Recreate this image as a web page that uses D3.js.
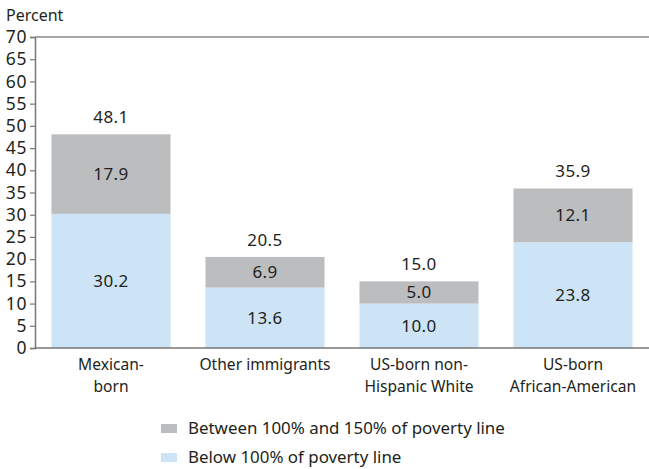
<!DOCTYPE html>
<html><head><meta charset="utf-8">
<script src="https://cdn.jsdelivr.net/npm/d3@7"></script>
<style>body{margin:0;background:#fff}text{font-family:"Noto Sans",sans-serif;fill:#231f20}</style>
</head><body><svg id="c" width="649" height="469"></svg>
<script>
const categories = [["Mexican-","born"],["Other immigrants"],["US-born non-","Hispanic White"],["US-born","African-American"]];
const below100 = [30.2, 13.6, 10.0, 23.8];
const between100_150 = [17.9, 6.9, 5.0, 12.1];
const totals = [48.1, 20.5, 15.0, 35.9];
const yTicks = [0,5,10,15,20,25,30,35,40,45,50,55,60,65,70];
const legendLabels = ["Between 100% and 150% of poverty line","Below 100% of poverty line"];
const colors = {below:"#cce4f6", between:"#bcbdbf"};

const svg = d3.select("#c");
const L=35, R=649, T=37, B=348;
const x = d3.scaleBand().domain(d3.range(categories.length)).range([L,R]).paddingInner(0.227).paddingOuter(0.107);
const y = d3.scaleLinear().domain([0,70]).range([B,T]);

const g = svg.append("g");
categories.forEach((c,i)=>{
  g.append("rect").attr("x",x(i)).attr("width",x.bandwidth()).attr("y",y(below100[i])).attr("height",y(0)-y(below100[i])).attr("fill",colors.below);
  g.append("rect").attr("x",x(i)).attr("width",x.bandwidth()).attr("y",y(below100[i]+between100_150[i])).attr("height",y(0)-y(between100_150[i])).attr("fill",colors.between);
  const cx = x(i)+x.bandwidth()/2;
  const vt = (yy,t)=>g.append("text").attr("x",cx).attr("y",yy).attr("dy","0.35em").attr("text-anchor","middle").attr("font-size",17).attr("letter-spacing",0.4).text(t);
  vt(y(below100[i]/2), below100[i].toFixed(1));
  vt(y(below100[i]+between100_150[i]/2), between100_150[i].toFixed(1));
  vt(y(totals[i])-17, totals[i].toFixed(1));
  c.forEach((line,j)=>{
    g.append("text").attr("x",cx).attr("y",365+j*22).attr("dy","0.35em").attr("text-anchor","middle").attr("font-size",15.6).text(line);
  });
});

const ya = svg.append("g").attr("transform",`translate(${L},0)`).call(d3.axisLeft(y).tickValues(yTicks).tickSize(5).tickPadding(3));
ya.select(".domain").attr("stroke","#777").attr("stroke-width",1.5);
ya.selectAll(".tick line").attr("stroke","#777").attr("stroke-width",1.2);
ya.selectAll(".tick text").attr("font-size",17.5).attr("font-family","Noto Sans").attr("letter-spacing",0.6).attr("fill","#231f20");
svg.append("line").attr("x1",L).attr("x2",R).attr("y1",y(0)).attr("y2",y(0)).attr("stroke","#777").attr("stroke-width",1.5);
svg.append("line").attr("x1",L).attr("x2",R).attr("y1",y(70)).attr("y2",y(70)).attr("stroke","#888").attr("stroke-width",1.5);
svg.append("text").attr("x",6).attr("y",15).attr("dy","0.35em").attr("font-size",16).text("Percent");

const lg = svg.append("g");
[colors.between, colors.below].forEach((col,i)=>{
  lg.append("rect").attr("x",161).attr("y",424+i*29).attr("width",16).attr("height",9).attr("fill",col);
  lg.append("text").attr("x",188).attr("y",428+i*29).attr("dy","0.35em").attr("font-size",16.9).text(legendLabels[i]);
});
</script></body></html>
